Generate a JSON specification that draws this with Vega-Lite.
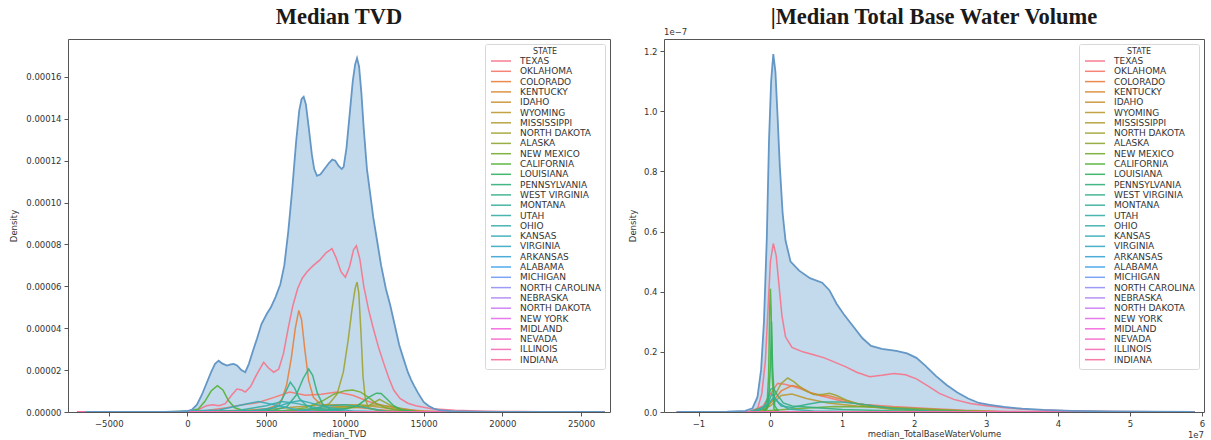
{
  "$schema": "https://vega.github.io/schema/vega-lite/v6.json",
  "padding": {"left": 9, "top": 5, "right": 0, "bottom": 0},
  "background": "white",
  "config": {
    "font": "DejaVu Sans",
    "view": {"stroke": "#555", "strokeWidth": 1},
    "axis": {"domain": false, "grid": false, "ticks": true, "tickColor": "#555", "tickSize": 4, "tickWidth": 1,
      "labelFont": "DejaVu Sans", "labelFontSize": 8.5, "labelColor": "#333", "labelPadding": 3,
      "titleFont": "DejaVu Sans", "titleFontSize": 8.5, "titleFontWeight": "normal", "titleColor": "#333"},
    "title": {"font": "Liberation Serif", "fontSize": 22.5, "fontWeight": "bold", "color": "#1a1a1a", "anchor": "middle"}
  },
  "datasets": {
    "tvd_total": [
      {"x": -6500, "y": 0}, {"x": -2000, "y": 0}, {"x": -500, "y": 1e-7}, {"x": 0, "y": 4e-7}, {"x": 300, "y": 1.2e-6},
      {"x": 600, "y": 3.5e-6}, {"x": 900, "y": 8e-6}, {"x": 1200, "y": 1.35e-5}, {"x": 1500, "y": 1.9e-5}, {"x": 1750, "y": 2.3e-5},
      {"x": 1980, "y": 2.45e-5}, {"x": 2200, "y": 2.32e-5}, {"x": 2500, "y": 2.22e-5}, {"x": 2750, "y": 2.27e-5}, {"x": 2930, "y": 2.3e-5},
      {"x": 3150, "y": 2.22e-5}, {"x": 3400, "y": 2.02e-5}, {"x": 3670, "y": 1.9e-5}, {"x": 3900, "y": 2.3e-5}, {"x": 4150, "y": 2.9e-5},
      {"x": 4415, "y": 3.5e-5}, {"x": 4700, "y": 4.2e-5}, {"x": 5050, "y": 4.7e-5}, {"x": 5300, "y": 5.0e-5}, {"x": 5600, "y": 5.5e-5},
      {"x": 5900, "y": 6.1e-5}, {"x": 6150, "y": 7.0e-5}, {"x": 6400, "y": 8.6e-5}, {"x": 6650, "y": 1.06e-4}, {"x": 6900, "y": 1.29e-4},
      {"x": 7100, "y": 1.44e-4}, {"x": 7250, "y": 1.495e-4}, {"x": 7380, "y": 1.505e-4}, {"x": 7520, "y": 1.47e-4}, {"x": 7700, "y": 1.36e-4},
      {"x": 7900, "y": 1.23e-4}, {"x": 8050, "y": 1.16e-4}, {"x": 8230, "y": 1.128e-4}, {"x": 8450, "y": 1.135e-4}, {"x": 8700, "y": 1.16e-4},
      {"x": 9000, "y": 1.19e-4}, {"x": 9200, "y": 1.205e-4}, {"x": 9390, "y": 1.2e-4}, {"x": 9600, "y": 1.175e-4}, {"x": 9800, "y": 1.16e-4},
      {"x": 9920, "y": 1.17e-4}, {"x": 10100, "y": 1.26e-4}, {"x": 10300, "y": 1.42e-4}, {"x": 10500, "y": 1.58e-4}, {"x": 10650, "y": 1.66e-4},
      {"x": 10770, "y": 1.69e-4}, {"x": 10900, "y": 1.65e-4}, {"x": 11050, "y": 1.52e-4}, {"x": 11190, "y": 1.36e-4}, {"x": 11400, "y": 1.16e-4},
      {"x": 11610, "y": 1.04e-4}, {"x": 11800, "y": 9.3e-5}, {"x": 12040, "y": 8.2e-5}, {"x": 12300, "y": 7.0e-5}, {"x": 12600, "y": 5.9e-5},
      {"x": 12880, "y": 5.1e-5}, {"x": 13150, "y": 4.2e-5}, {"x": 13450, "y": 3.2e-5}, {"x": 13740, "y": 2.5e-5}, {"x": 14000, "y": 1.9e-5},
      {"x": 14200, "y": 1.55e-5}, {"x": 14400, "y": 1.25e-5}, {"x": 14650, "y": 9e-6}, {"x": 15000, "y": 4.8e-6}, {"x": 15300, "y": 3e-6},
      {"x": 15640, "y": 1.6e-6}, {"x": 16000, "y": 9e-7}, {"x": 16800, "y": 4e-7}, {"x": 18000, "y": 1.5e-7}, {"x": 20000, "y": 5e-8},
      {"x": 23000, "y": 2e-8}, {"x": 26500, "y": 0}
    ],
    "tvd_states": [
      {"state": "TEXAS", "x": -6500, "y": 0}, {"state": "TEXAS", "x": 0, "y": 0}, {"state": "TEXAS", "x": 400, "y": 5e-7},
      {"state": "TEXAS", "x": 800, "y": 1.5e-6}, {"state": "TEXAS", "x": 1200, "y": 3e-6}, {"state": "TEXAS", "x": 1600, "y": 3.5e-6},
      {"state": "TEXAS", "x": 2000, "y": 3e-6}, {"state": "TEXAS", "x": 2400, "y": 4e-6}, {"state": "TEXAS", "x": 2800, "y": 8e-6},
      {"state": "TEXAS", "x": 3145, "y": 1.1e-5}, {"state": "TEXAS", "x": 3450, "y": 1.05e-5}, {"state": "TEXAS", "x": 3670, "y": 9.5e-6},
      {"state": "TEXAS", "x": 4000, "y": 1.2e-5}, {"state": "TEXAS", "x": 4400, "y": 1.8e-5}, {"state": "TEXAS", "x": 4840, "y": 2.37e-5},
      {"state": "TEXAS", "x": 5150, "y": 2.1e-5}, {"state": "TEXAS", "x": 5480, "y": 1.9e-5}, {"state": "TEXAS", "x": 5800, "y": 2.05e-5},
      {"state": "TEXAS", "x": 6100, "y": 2.8e-5}, {"state": "TEXAS", "x": 6400, "y": 4.0e-5}, {"state": "TEXAS", "x": 6700, "y": 5.1e-5},
      {"state": "TEXAS", "x": 7000, "y": 5.9e-5}, {"state": "TEXAS", "x": 7300, "y": 6.4e-5}, {"state": "TEXAS", "x": 7600, "y": 6.7e-5},
      {"state": "TEXAS", "x": 8000, "y": 7.0e-5}, {"state": "TEXAS", "x": 8400, "y": 7.25e-5}, {"state": "TEXAS", "x": 8800, "y": 7.6e-5},
      {"state": "TEXAS", "x": 9180, "y": 7.8e-5}, {"state": "TEXAS", "x": 9450, "y": 7.35e-5}, {"state": "TEXAS", "x": 9750, "y": 6.7e-5},
      {"state": "TEXAS", "x": 10030, "y": 6.43e-5}, {"state": "TEXAS", "x": 10300, "y": 6.95e-5}, {"state": "TEXAS", "x": 10550, "y": 7.75e-5},
      {"state": "TEXAS", "x": 10730, "y": 7.94e-5}, {"state": "TEXAS", "x": 10950, "y": 7.3e-5}, {"state": "TEXAS", "x": 11200, "y": 6.0e-5},
      {"state": "TEXAS", "x": 11500, "y": 4.9e-5}, {"state": "TEXAS", "x": 11800, "y": 4.0e-5}, {"state": "TEXAS", "x": 12150, "y": 3.05e-5},
      {"state": "TEXAS", "x": 12500, "y": 2.25e-5}, {"state": "TEXAS", "x": 12800, "y": 1.6e-5}, {"state": "TEXAS", "x": 13100, "y": 1.05e-5},
      {"state": "TEXAS", "x": 13500, "y": 6.5e-6}, {"state": "TEXAS", "x": 14000, "y": 4.2e-6}, {"state": "TEXAS", "x": 14500, "y": 3e-6},
      {"state": "TEXAS", "x": 15500, "y": 1.6e-6}, {"state": "TEXAS", "x": 17000, "y": 8e-7}, {"state": "TEXAS", "x": 19000, "y": 4e-7},
      {"state": "TEXAS", "x": 21000, "y": 2e-7}, {"state": "TEXAS", "x": 24000, "y": 5e-8}, {"state": "TEXAS", "x": 26500, "y": 0},

      {"state": "OKLAHOMA", "x": -2000, "y": 0}, {"state": "OKLAHOMA", "x": 1000, "y": 5e-7}, {"state": "OKLAHOMA", "x": 2500, "y": 2e-6},
      {"state": "OKLAHOMA", "x": 3500, "y": 3.5e-6}, {"state": "OKLAHOMA", "x": 4500, "y": 4.5e-6}, {"state": "OKLAHOMA", "x": 5500, "y": 7e-6},
      {"state": "OKLAHOMA", "x": 6500, "y": 9.5e-6}, {"state": "OKLAHOMA", "x": 7500, "y": 8e-6}, {"state": "OKLAHOMA", "x": 8500, "y": 8.5e-6},
      {"state": "OKLAHOMA", "x": 9500, "y": 9.5e-6}, {"state": "OKLAHOMA", "x": 10500, "y": 8e-6}, {"state": "OKLAHOMA", "x": 11500, "y": 5e-6},
      {"state": "OKLAHOMA", "x": 12500, "y": 3e-6}, {"state": "OKLAHOMA", "x": 13500, "y": 1.5e-6}, {"state": "OKLAHOMA", "x": 15000, "y": 5e-7},
      {"state": "OKLAHOMA", "x": 18000, "y": 0},

      {"state": "COLORADO", "x": -2000, "y": 0}, {"state": "COLORADO", "x": 2000, "y": 5e-7}, {"state": "COLORADO", "x": 4000, "y": 1e-6},
      {"state": "COLORADO", "x": 5000, "y": 1.5e-6}, {"state": "COLORADO", "x": 5600, "y": 3e-6}, {"state": "COLORADO", "x": 6000, "y": 6e-6},
      {"state": "COLORADO", "x": 6300, "y": 1.3e-5}, {"state": "COLORADO", "x": 6600, "y": 2.6e-5}, {"state": "COLORADO", "x": 6850, "y": 4.0e-5},
      {"state": "COLORADO", "x": 7070, "y": 4.85e-5}, {"state": "COLORADO", "x": 7250, "y": 4.4e-5}, {"state": "COLORADO", "x": 7450, "y": 3.0e-5},
      {"state": "COLORADO", "x": 7700, "y": 1.5e-5}, {"state": "COLORADO", "x": 8000, "y": 7e-6}, {"state": "COLORADO", "x": 8400, "y": 4e-6},
      {"state": "COLORADO", "x": 9000, "y": 3e-6}, {"state": "COLORADO", "x": 10000, "y": 2.5e-6}, {"state": "COLORADO", "x": 11000, "y": 2e-6},
      {"state": "COLORADO", "x": 12000, "y": 1.2e-6}, {"state": "COLORADO", "x": 13000, "y": 6e-7}, {"state": "COLORADO", "x": 14500, "y": 2e-7},
      {"state": "COLORADO", "x": 17000, "y": 0},

      {"state": "KENTUCKY", "x": -7000, "y": 0}, {"state": "KENTUCKY", "x": 26500, "y": 0},
      {"state": "IDAHO", "x": -7000, "y": 0}, {"state": "IDAHO", "x": 26500, "y": 0},

      {"state": "WYOMING", "x": -2000, "y": 0}, {"state": "WYOMING", "x": 4000, "y": 5e-7}, {"state": "WYOMING", "x": 7000, "y": 2.5e-6},
      {"state": "WYOMING", "x": 9000, "y": 3.5e-6}, {"state": "WYOMING", "x": 11000, "y": 3.5e-6}, {"state": "WYOMING", "x": 12500, "y": 2e-6},
      {"state": "WYOMING", "x": 14000, "y": 5e-7}, {"state": "WYOMING", "x": 16000, "y": 0},

      {"state": "MISSISSIPPI", "x": -2000, "y": 0}, {"state": "MISSISSIPPI", "x": 8000, "y": 5e-7}, {"state": "MISSISSIPPI", "x": 10500, "y": 2e-6},
      {"state": "MISSISSIPPI", "x": 12000, "y": 3.5e-6}, {"state": "MISSISSIPPI", "x": 13000, "y": 2.5e-6}, {"state": "MISSISSIPPI", "x": 14500, "y": 5e-7},
      {"state": "MISSISSIPPI", "x": 16000, "y": 0},

      {"state": "NORTH DAKOTA", "x": -2000, "y": 0}, {"state": "NORTH DAKOTA", "x": 6000, "y": 2e-7}, {"state": "NORTH DAKOTA", "x": 8000, "y": 1.2e-6},
      {"state": "NORTH DAKOTA", "x": 9000, "y": 4e-6}, {"state": "NORTH DAKOTA", "x": 9500, "y": 8.5e-6}, {"state": "NORTH DAKOTA", "x": 9900, "y": 1.9e-5},
      {"state": "NORTH DAKOTA", "x": 10200, "y": 3.4e-5}, {"state": "NORTH DAKOTA", "x": 10450, "y": 4.9e-5}, {"state": "NORTH DAKOTA", "x": 10650, "y": 5.9e-5},
      {"state": "NORTH DAKOTA", "x": 10770, "y": 6.2e-5}, {"state": "NORTH DAKOTA", "x": 10880, "y": 5.7e-5}, {"state": "NORTH DAKOTA", "x": 11020, "y": 3.8e-5},
      {"state": "NORTH DAKOTA", "x": 11150, "y": 1.7e-5}, {"state": "NORTH DAKOTA", "x": 11300, "y": 6e-6}, {"state": "NORTH DAKOTA", "x": 11500, "y": 2e-6},
      {"state": "NORTH DAKOTA", "x": 12000, "y": 8e-7}, {"state": "NORTH DAKOTA", "x": 13000, "y": 3e-7}, {"state": "NORTH DAKOTA", "x": 15000, "y": 0},

      {"state": "ALASKA", "x": -2000, "y": 0}, {"state": "ALASKA", "x": 6000, "y": 5e-7}, {"state": "ALASKA", "x": 9000, "y": 2e-6},
      {"state": "ALASKA", "x": 11500, "y": 3e-6}, {"state": "ALASKA", "x": 12200, "y": 6e-6}, {"state": "ALASKA", "x": 12700, "y": 4e-6},
      {"state": "ALASKA", "x": 13500, "y": 1e-6}, {"state": "ALASKA", "x": 15000, "y": 0},

      {"state": "NEW MEXICO", "x": -2000, "y": 0}, {"state": "NEW MEXICO", "x": 6000, "y": 5e-7}, {"state": "NEW MEXICO", "x": 7500, "y": 2e-6},
      {"state": "NEW MEXICO", "x": 8500, "y": 5e-6}, {"state": "NEW MEXICO", "x": 9300, "y": 8.5e-6}, {"state": "NEW MEXICO", "x": 10000, "y": 1.02e-5},
      {"state": "NEW MEXICO", "x": 10500, "y": 1.05e-5}, {"state": "NEW MEXICO", "x": 11000, "y": 9.5e-6}, {"state": "NEW MEXICO", "x": 11500, "y": 7e-6},
      {"state": "NEW MEXICO", "x": 12000, "y": 4e-6}, {"state": "NEW MEXICO", "x": 12600, "y": 2e-6}, {"state": "NEW MEXICO", "x": 13500, "y": 6e-7},
      {"state": "NEW MEXICO", "x": 15000, "y": 0},

      {"state": "CALIFORNIA", "x": -4000, "y": 0}, {"state": "CALIFORNIA", "x": 0, "y": 2e-7}, {"state": "CALIFORNIA", "x": 700, "y": 1.5e-6},
      {"state": "CALIFORNIA", "x": 1100, "y": 5e-6}, {"state": "CALIFORNIA", "x": 1500, "y": 1.0e-5}, {"state": "CALIFORNIA", "x": 1900, "y": 1.26e-5},
      {"state": "CALIFORNIA", "x": 2250, "y": 1.05e-5}, {"state": "CALIFORNIA", "x": 2600, "y": 5.5e-6}, {"state": "CALIFORNIA", "x": 3000, "y": 2e-6},
      {"state": "CALIFORNIA", "x": 3500, "y": 8e-7}, {"state": "CALIFORNIA", "x": 4500, "y": 5e-7}, {"state": "CALIFORNIA", "x": 6000, "y": 3e-7},
      {"state": "CALIFORNIA", "x": 8000, "y": 0},

      {"state": "LOUISIANA", "x": -2000, "y": 0}, {"state": "LOUISIANA", "x": 8000, "y": 2e-7}, {"state": "LOUISIANA", "x": 10000, "y": 1.5e-6},
      {"state": "LOUISIANA", "x": 10800, "y": 3e-6}, {"state": "LOUISIANA", "x": 11500, "y": 7e-6}, {"state": "LOUISIANA", "x": 12000, "y": 9e-6},
      {"state": "LOUISIANA", "x": 12300, "y": 8.8e-6}, {"state": "LOUISIANA", "x": 12700, "y": 6e-6}, {"state": "LOUISIANA", "x": 13100, "y": 3e-6},
      {"state": "LOUISIANA", "x": 13600, "y": 1e-6}, {"state": "LOUISIANA", "x": 14500, "y": 2e-7}, {"state": "LOUISIANA", "x": 17000, "y": 0},

      {"state": "PENNSYLVANIA", "x": -2000, "y": 0}, {"state": "PENNSYLVANIA", "x": 4000, "y": 3e-7}, {"state": "PENNSYLVANIA", "x": 5500, "y": 1e-6},
      {"state": "PENNSYLVANIA", "x": 6300, "y": 2.5e-6}, {"state": "PENNSYLVANIA", "x": 6900, "y": 8e-6}, {"state": "PENNSYLVANIA", "x": 7350, "y": 1.6e-5},
      {"state": "PENNSYLVANIA", "x": 7700, "y": 2.05e-5}, {"state": "PENNSYLVANIA", "x": 7950, "y": 1.75e-5}, {"state": "PENNSYLVANIA", "x": 8250, "y": 9e-6},
      {"state": "PENNSYLVANIA", "x": 8600, "y": 3.5e-6}, {"state": "PENNSYLVANIA", "x": 9100, "y": 1.2e-6}, {"state": "PENNSYLVANIA", "x": 10000, "y": 4e-7},
      {"state": "PENNSYLVANIA", "x": 12000, "y": 0},

      {"state": "WEST VIRGINIA", "x": -2000, "y": 0}, {"state": "WEST VIRGINIA", "x": 3000, "y": 2e-7}, {"state": "WEST VIRGINIA", "x": 5000, "y": 1e-6},
      {"state": "WEST VIRGINIA", "x": 5800, "y": 3e-6}, {"state": "WEST VIRGINIA", "x": 6200, "y": 9e-6}, {"state": "WEST VIRGINIA", "x": 6530, "y": 1.42e-5},
      {"state": "WEST VIRGINIA", "x": 6800, "y": 1.15e-5}, {"state": "WEST VIRGINIA", "x": 7100, "y": 6.5e-6}, {"state": "WEST VIRGINIA", "x": 7500, "y": 3.5e-6},
      {"state": "WEST VIRGINIA", "x": 8000, "y": 1.5e-6}, {"state": "WEST VIRGINIA", "x": 9000, "y": 5e-7}, {"state": "WEST VIRGINIA", "x": 11000, "y": 0},

      {"state": "MONTANA", "x": -2000, "y": 0}, {"state": "MONTANA", "x": 7000, "y": 5e-7}, {"state": "MONTANA", "x": 9000, "y": 3e-6},
      {"state": "MONTANA", "x": 10000, "y": 3.5e-6}, {"state": "MONTANA", "x": 11000, "y": 2.5e-6}, {"state": "MONTANA", "x": 12500, "y": 5e-7},
      {"state": "MONTANA", "x": 14000, "y": 0},

      {"state": "UTAH", "x": -2000, "y": 0}, {"state": "UTAH", "x": 3000, "y": 5e-7}, {"state": "UTAH", "x": 5000, "y": 3e-6},
      {"state": "UTAH", "x": 6000, "y": 5e-6}, {"state": "UTAH", "x": 7000, "y": 4e-6}, {"state": "UTAH", "x": 8500, "y": 1.5e-6},
      {"state": "UTAH", "x": 10000, "y": 0},

      {"state": "OHIO", "x": -2000, "y": 0}, {"state": "OHIO", "x": 4000, "y": 5e-7}, {"state": "OHIO", "x": 5500, "y": 2e-6},
      {"state": "OHIO", "x": 6500, "y": 4.5e-6}, {"state": "OHIO", "x": 7200, "y": 5.5e-6}, {"state": "OHIO", "x": 8000, "y": 4e-6},
      {"state": "OHIO", "x": 9000, "y": 2e-6}, {"state": "OHIO", "x": 10500, "y": 5e-7}, {"state": "OHIO", "x": 13000, "y": 0},

      {"state": "KANSAS", "x": -2000, "y": 0}, {"state": "KANSAS", "x": 2000, "y": 1e-6}, {"state": "KANSAS", "x": 3500, "y": 3.5e-6},
      {"state": "KANSAS", "x": 4500, "y": 5e-6}, {"state": "KANSAS", "x": 5500, "y": 3.5e-6}, {"state": "KANSAS", "x": 7000, "y": 1e-6},
      {"state": "KANSAS", "x": 9000, "y": 0},

      {"state": "VIRGINIA", "x": -7000, "y": 0}, {"state": "VIRGINIA", "x": 26500, "y": 0},
      {"state": "ARKANSAS", "x": -7000, "y": 0}, {"state": "ARKANSAS", "x": 26500, "y": 0},
      {"state": "ALABAMA", "x": -7000, "y": 0}, {"state": "ALABAMA", "x": 26500, "y": 0},
      {"state": "MICHIGAN", "x": -7000, "y": 0}, {"state": "MICHIGAN", "x": 26500, "y": 0},
      {"state": "NORTH CAROLINA", "x": -7000, "y": 0}, {"state": "NORTH CAROLINA", "x": 26500, "y": 0},
      {"state": "NEBRASKA", "x": -7000, "y": 0}, {"state": "NEBRASKA", "x": 26500, "y": 0},
      {"state": "NORTH  DAKOTA", "x": -7000, "y": 0}, {"state": "NORTH  DAKOTA", "x": 26500, "y": 0},
      {"state": "NEW YORK", "x": -7000, "y": 0}, {"state": "NEW YORK", "x": 26500, "y": 0},
      {"state": "MIDLAND", "x": -7000, "y": 0}, {"state": "MIDLAND", "x": 26500, "y": 0},
      {"state": "NEVADA", "x": -7000, "y": 0}, {"state": "NEVADA", "x": 26500, "y": 0},
      {"state": "ILLINOIS", "x": -7000, "y": 0}, {"state": "ILLINOIS", "x": 26500, "y": 0},
      {"state": "INDIANA", "x": -7000, "y": 0}, {"state": "INDIANA", "x": 26500, "y": 0}
    ],
    "wv_total": [
      {"x": -13000000, "y": 0}, {"x": -6000000, "y": 1e-10}, {"x": -3500000, "y": 4e-10}, {"x": -2500000, "y": 1.2e-9},
      {"x": -1800000, "y": 5e-9}, {"x": -1300000, "y": 1.4e-8}, {"x": -900000, "y": 3e-8}, {"x": -500000, "y": 5.8e-8},
      {"x": -200000, "y": 9e-8}, {"x": 100000, "y": 1.1e-7}, {"x": 400000, "y": 1.19e-7}, {"x": 700000, "y": 1.13e-7},
      {"x": 1000000, "y": 9.8e-8}, {"x": 1300000, "y": 8.2e-8}, {"x": 1700000, "y": 6.6e-8}, {"x": 2100000, "y": 5.7e-8},
      {"x": 2800000, "y": 5.0e-8}, {"x": 4000000, "y": 4.7e-8}, {"x": 5500000, "y": 4.45e-8}, {"x": 7200000, "y": 4.3e-8},
      {"x": 8200000, "y": 4.05e-8}, {"x": 9200000, "y": 3.6e-8}, {"x": 10200000, "y": 3.25e-8}, {"x": 11500000, "y": 2.85e-8},
      {"x": 12800000, "y": 2.45e-8}, {"x": 14000000, "y": 2.2e-8}, {"x": 15500000, "y": 2.1e-8}, {"x": 17500000, "y": 2.03e-8},
      {"x": 19000000, "y": 1.95e-8}, {"x": 20300000, "y": 1.8e-8}, {"x": 21500000, "y": 1.55e-8}, {"x": 23000000, "y": 1.2e-8},
      {"x": 24500000, "y": 9e-9}, {"x": 26000000, "y": 6.5e-9}, {"x": 27500000, "y": 4.5e-9}, {"x": 29000000, "y": 3e-9},
      {"x": 30500000, "y": 2.4e-9}, {"x": 32500000, "y": 1.7e-9}, {"x": 35000000, "y": 1.1e-9}, {"x": 38000000, "y": 7e-10},
      {"x": 42000000, "y": 4e-10}, {"x": 47000000, "y": 2e-10}, {"x": 53000000, "y": 1e-10}, {"x": 59000000, "y": 0}
    ],
    "wv_states": [
      {"state": "TEXAS", "x": -13000000, "y": 0}, {"state": "TEXAS", "x": -3000000, "y": 1e-10}, {"state": "TEXAS", "x": -1800000, "y": 1e-9},
      {"state": "TEXAS", "x": -1200000, "y": 6e-9}, {"state": "TEXAS", "x": -700000, "y": 1.7e-8}, {"state": "TEXAS", "x": -300000, "y": 3.6e-8},
      {"state": "TEXAS", "x": 0, "y": 5.0e-8}, {"state": "TEXAS", "x": 400000, "y": 5.6e-8}, {"state": "TEXAS", "x": 800000, "y": 5.2e-8},
      {"state": "TEXAS", "x": 1200000, "y": 4.2e-8}, {"state": "TEXAS", "x": 1600000, "y": 3.2e-8}, {"state": "TEXAS", "x": 2100000, "y": 2.5e-8},
      {"state": "TEXAS", "x": 3000000, "y": 2.15e-8}, {"state": "TEXAS", "x": 4500000, "y": 2.0e-8}, {"state": "TEXAS", "x": 6000000, "y": 1.9e-8},
      {"state": "TEXAS", "x": 7500000, "y": 1.8e-8}, {"state": "TEXAS", "x": 9000000, "y": 1.65e-8}, {"state": "TEXAS", "x": 10500000, "y": 1.5e-8},
      {"state": "TEXAS", "x": 12000000, "y": 1.32e-8}, {"state": "TEXAS", "x": 13800000, "y": 1.17e-8}, {"state": "TEXAS", "x": 15500000, "y": 1.22e-8},
      {"state": "TEXAS", "x": 17200000, "y": 1.28e-8}, {"state": "TEXAS", "x": 18800000, "y": 1.24e-8}, {"state": "TEXAS", "x": 20300000, "y": 1.1e-8},
      {"state": "TEXAS", "x": 22000000, "y": 8.5e-9}, {"state": "TEXAS", "x": 23500000, "y": 6.2e-9}, {"state": "TEXAS", "x": 25500000, "y": 4.2e-9},
      {"state": "TEXAS", "x": 27800000, "y": 2.8e-9}, {"state": "TEXAS", "x": 30000000, "y": 2.1e-9}, {"state": "TEXAS", "x": 33000000, "y": 1.3e-9},
      {"state": "TEXAS", "x": 36000000, "y": 8e-10}, {"state": "TEXAS", "x": 41000000, "y": 4e-10}, {"state": "TEXAS", "x": 48000000, "y": 2e-10},
      {"state": "TEXAS", "x": 59000000, "y": 0},

      {"state": "OKLAHOMA", "x": -3000000, "y": 0}, {"state": "OKLAHOMA", "x": -1000000, "y": 2e-9}, {"state": "OKLAHOMA", "x": 0, "y": 6e-9},
      {"state": "OKLAHOMA", "x": 1000000, "y": 9.5e-9}, {"state": "OKLAHOMA", "x": 2000000, "y": 9.2e-9}, {"state": "OKLAHOMA", "x": 3200000, "y": 8.5e-9},
      {"state": "OKLAHOMA", "x": 4500000, "y": 7.5e-9}, {"state": "OKLAHOMA", "x": 6000000, "y": 6e-9}, {"state": "OKLAHOMA", "x": 8000000, "y": 4.8e-9},
      {"state": "OKLAHOMA", "x": 10000000, "y": 3.6e-9}, {"state": "OKLAHOMA", "x": 13000000, "y": 2.5e-9}, {"state": "OKLAHOMA", "x": 17000000, "y": 1.8e-9},
      {"state": "OKLAHOMA", "x": 22000000, "y": 1.2e-9}, {"state": "OKLAHOMA", "x": 27000000, "y": 6e-10}, {"state": "OKLAHOMA", "x": 33000000, "y": 2e-10},
      {"state": "OKLAHOMA", "x": 40000000, "y": 0},

      {"state": "COLORADO", "x": -3000000, "y": 0}, {"state": "COLORADO", "x": -1000000, "y": 1e-9}, {"state": "COLORADO", "x": 500000, "y": 4e-9},
      {"state": "COLORADO", "x": 1500000, "y": 7e-9}, {"state": "COLORADO", "x": 3000000, "y": 8.8e-9}, {"state": "COLORADO", "x": 4200000, "y": 8.2e-9},
      {"state": "COLORADO", "x": 5500000, "y": 6.5e-9}, {"state": "COLORADO", "x": 7000000, "y": 5.5e-9}, {"state": "COLORADO", "x": 8000000, "y": 5.5e-9},
      {"state": "COLORADO", "x": 9500000, "y": 4.5e-9}, {"state": "COLORADO", "x": 12000000, "y": 2.8e-9}, {"state": "COLORADO", "x": 16000000, "y": 1.5e-9},
      {"state": "COLORADO", "x": 22000000, "y": 6e-10}, {"state": "COLORADO", "x": 30000000, "y": 0},

      {"state": "KENTUCKY", "x": -13000000, "y": 0}, {"state": "KENTUCKY", "x": 59000000, "y": 0},
      {"state": "IDAHO", "x": -13000000, "y": 0}, {"state": "IDAHO", "x": 59000000, "y": 0},

      {"state": "WYOMING", "x": -2000000, "y": 0}, {"state": "WYOMING", "x": 0, "y": 2e-9}, {"state": "WYOMING", "x": 1500000, "y": 5.5e-9},
      {"state": "WYOMING", "x": 3000000, "y": 6e-9}, {"state": "WYOMING", "x": 5000000, "y": 4.5e-9}, {"state": "WYOMING", "x": 8000000, "y": 3e-9},
      {"state": "WYOMING", "x": 12000000, "y": 2e-9}, {"state": "WYOMING", "x": 18000000, "y": 1.2e-9}, {"state": "WYOMING", "x": 25000000, "y": 5e-10},
      {"state": "WYOMING", "x": 32000000, "y": 0},

      {"state": "MISSISSIPPI", "x": -13000000, "y": 0}, {"state": "MISSISSIPPI", "x": 59000000, "y": 0},

      {"state": "NORTH DAKOTA", "x": -2000000, "y": 0}, {"state": "NORTH DAKOTA", "x": -500000, "y": 1e-9}, {"state": "NORTH DAKOTA", "x": 500000, "y": 5e-9},
      {"state": "NORTH DAKOTA", "x": 1500000, "y": 9.5e-9}, {"state": "NORTH DAKOTA", "x": 2400000, "y": 1.13e-8}, {"state": "NORTH DAKOTA", "x": 3300000, "y": 1.0e-8},
      {"state": "NORTH DAKOTA", "x": 4500000, "y": 7.5e-9}, {"state": "NORTH DAKOTA", "x": 6000000, "y": 5.8e-9}, {"state": "NORTH DAKOTA", "x": 7200000, "y": 5.8e-9},
      {"state": "NORTH DAKOTA", "x": 8200000, "y": 6.2e-9}, {"state": "NORTH DAKOTA", "x": 9200000, "y": 5.5e-9}, {"state": "NORTH DAKOTA", "x": 10500000, "y": 4e-9},
      {"state": "NORTH DAKOTA", "x": 13000000, "y": 2e-9}, {"state": "NORTH DAKOTA", "x": 17000000, "y": 8e-10}, {"state": "NORTH DAKOTA", "x": 24000000, "y": 0},

      {"state": "ALASKA", "x": -13000000, "y": 0}, {"state": "ALASKA", "x": 59000000, "y": 0},

      {"state": "NEW MEXICO", "x": -2000000, "y": 0}, {"state": "NEW MEXICO", "x": 0, "y": 5e-10}, {"state": "NEW MEXICO", "x": 4000000, "y": 1.2e-9},
      {"state": "NEW MEXICO", "x": 9000000, "y": 1.8e-9}, {"state": "NEW MEXICO", "x": 15000000, "y": 1.7e-9}, {"state": "NEW MEXICO", "x": 20000000, "y": 1.2e-9},
      {"state": "NEW MEXICO", "x": 26000000, "y": 5e-10}, {"state": "NEW MEXICO", "x": 33000000, "y": 0},

      {"state": "CALIFORNIA", "x": -13000000, "y": 0}, {"state": "CALIFORNIA", "x": -1000000, "y": 0}, {"state": "CALIFORNIA", "x": -500000, "y": 1e-9},
      {"state": "CALIFORNIA", "x": -250000, "y": 1.2e-8}, {"state": "CALIFORNIA", "x": -100000, "y": 3.4e-8}, {"state": "CALIFORNIA", "x": 0, "y": 4.1e-8},
      {"state": "CALIFORNIA", "x": 100000, "y": 3.4e-8}, {"state": "CALIFORNIA", "x": 250000, "y": 1.2e-8}, {"state": "CALIFORNIA", "x": 500000, "y": 1e-9},
      {"state": "CALIFORNIA", "x": 1000000, "y": 0}, {"state": "CALIFORNIA", "x": 59000000, "y": 0},

      {"state": "LOUISIANA", "x": -1000000, "y": 0}, {"state": "LOUISIANA", "x": -300000, "y": 2e-9}, {"state": "LOUISIANA", "x": 0, "y": 1.5e-8},
      {"state": "LOUISIANA", "x": 150000, "y": 3.0e-8}, {"state": "LOUISIANA", "x": 300000, "y": 1.5e-8}, {"state": "LOUISIANA", "x": 600000, "y": 2e-9},
      {"state": "LOUISIANA", "x": 1200000, "y": 0}, {"state": "LOUISIANA", "x": 59000000, "y": 0},

      {"state": "PENNSYLVANIA", "x": -3000000, "y": 0}, {"state": "PENNSYLVANIA", "x": -1000000, "y": 1e-9}, {"state": "PENNSYLVANIA", "x": -300000, "y": 5e-9},
      {"state": "PENNSYLVANIA", "x": 0, "y": 7.5e-9}, {"state": "PENNSYLVANIA", "x": 400000, "y": 8e-9}, {"state": "PENNSYLVANIA", "x": 1000000, "y": 5.5e-9},
      {"state": "PENNSYLVANIA", "x": 1800000, "y": 3e-9}, {"state": "PENNSYLVANIA", "x": 3000000, "y": 2e-9}, {"state": "PENNSYLVANIA", "x": 6000000, "y": 1.5e-9},
      {"state": "PENNSYLVANIA", "x": 10000000, "y": 8e-10}, {"state": "PENNSYLVANIA", "x": 20000000, "y": 2e-10}, {"state": "PENNSYLVANIA", "x": 30000000, "y": 0},

      {"state": "WEST VIRGINIA", "x": -3000000, "y": 0}, {"state": "WEST VIRGINIA", "x": -500000, "y": 2e-9}, {"state": "WEST VIRGINIA", "x": 200000, "y": 6e-9},
      {"state": "WEST VIRGINIA", "x": 800000, "y": 4e-9}, {"state": "WEST VIRGINIA", "x": 1500000, "y": 2e-9}, {"state": "WEST VIRGINIA", "x": 3000000, "y": 1.5e-9},
      {"state": "WEST VIRGINIA", "x": 5000000, "y": 2.5e-9}, {"state": "WEST VIRGINIA", "x": 7000000, "y": 3.3e-9}, {"state": "WEST VIRGINIA", "x": 10000000, "y": 3.3e-9},
      {"state": "WEST VIRGINIA", "x": 13000000, "y": 2.5e-9}, {"state": "WEST VIRGINIA", "x": 17000000, "y": 1.2e-9}, {"state": "WEST VIRGINIA", "x": 22000000, "y": 4e-10},
      {"state": "WEST VIRGINIA", "x": 30000000, "y": 0},

      {"state": "MONTANA", "x": -13000000, "y": 0}, {"state": "MONTANA", "x": 59000000, "y": 0},

      {"state": "UTAH", "x": -2000000, "y": 0}, {"state": "UTAH", "x": -200000, "y": 3e-9}, {"state": "UTAH", "x": 500000, "y": 5e-9},
      {"state": "UTAH", "x": 1200000, "y": 3e-9}, {"state": "UTAH", "x": 2500000, "y": 1e-9}, {"state": "UTAH", "x": 6000000, "y": 3e-10},
      {"state": "UTAH", "x": 15000000, "y": 0},

      {"state": "OHIO", "x": -13000000, "y": 0}, {"state": "OHIO", "x": 59000000, "y": 0},
      {"state": "KANSAS", "x": -13000000, "y": 0}, {"state": "KANSAS", "x": 59000000, "y": 0},
      {"state": "VIRGINIA", "x": -13000000, "y": 0}, {"state": "VIRGINIA", "x": 59000000, "y": 0},
      {"state": "ARKANSAS", "x": -13000000, "y": 0}, {"state": "ARKANSAS", "x": 59000000, "y": 0},
      {"state": "ALABAMA", "x": -13000000, "y": 0}, {"state": "ALABAMA", "x": 59000000, "y": 0},
      {"state": "MICHIGAN", "x": -13000000, "y": 0}, {"state": "MICHIGAN", "x": 59000000, "y": 0},
      {"state": "NORTH CAROLINA", "x": -13000000, "y": 0}, {"state": "NORTH CAROLINA", "x": 59000000, "y": 0},
      {"state": "NEBRASKA", "x": -13000000, "y": 0}, {"state": "NEBRASKA", "x": 59000000, "y": 0},
      {"state": "NORTH  DAKOTA", "x": -13000000, "y": 0}, {"state": "NORTH  DAKOTA", "x": 59000000, "y": 0},
      {"state": "NEW YORK", "x": -13000000, "y": 0}, {"state": "NEW YORK", "x": 59000000, "y": 0},
      {"state": "MIDLAND", "x": -13000000, "y": 0}, {"state": "MIDLAND", "x": 59000000, "y": 0},
      {"state": "NEVADA", "x": -13000000, "y": 0}, {"state": "NEVADA", "x": 59000000, "y": 0},
      {"state": "ILLINOIS", "x": -13000000, "y": 0}, {"state": "ILLINOIS", "x": 59000000, "y": 0},
      {"state": "INDIANA", "x": -13000000, "y": 0}, {"state": "INDIANA", "x": 59000000, "y": 0}
    ],
    "wv_offsets": [
      {"label": "1e\u22127", "x": -14800000, "y": 1.24e-7, "pos": "top"},
      {"label": "1e7", "x": 60300000, "y": 0, "pos": "bottom"}
    ]
  },
  "bounds": "flush",
  "spacing": 54,
  "resolve": {"scale": {"color": "independent"}},
  "hconcat": [
    {
      "width": 542,
      "height": 373,
      "title": {"text": "Median TVD", "offset": 11},
      "layer": [
        {
          "data": {"name": "tvd_total"},
          "mark": {"type": "area", "color": "#1f77b4", "opacity": 0.27, "clip": true},
          "encoding": {
            "x": {"field": "x", "type": "quantitative", "scale": {"domain": [-7590, 26840], "nice": false, "zero": false},
              "axis": {"values": [-5000, 0, 5000, 10000, 15000, 20000, 25000], "format": "d", "title": "median_TVD", "titlePadding": 2}},
            "y": {"field": "y", "type": "quantitative", "scale": {"domain": [0, 0.0001781], "nice": false},
              "axis": {"values": [0, 0.00002, 0.00004, 0.00006, 0.00008, 0.0001, 0.00012, 0.00014, 0.00016], "format": ".5f", "title": "Density", "titlePadding": 7}}
          }
        },
        {
          "data": {"name": "tvd_states"},
          "mark": {"type": "line", "strokeWidth": 1.5, "opacity": 0.9, "clip": true},
          "encoding": {
            "x": {"field": "x", "type": "quantitative"},
            "y": {"field": "y", "type": "quantitative"},
            "color": {"field": "state", "type": "nominal",
              "scale": {"domain": ["TEXAS","OKLAHOMA","COLORADO","KENTUCKY","IDAHO","WYOMING","MISSISSIPPI","NORTH DAKOTA","ALASKA","NEW MEXICO","CALIFORNIA","LOUISIANA","PENNSYLVANIA","WEST VIRGINIA","MONTANA","UTAH","OHIO","KANSAS","VIRGINIA","ARKANSAS","ALABAMA","MICHIGAN","NORTH CAROLINA","NEBRASKA","NORTH  DAKOTA","NEW YORK","MIDLAND","NEVADA","ILLINOIS","INDIANA"],
                "range": ["#f77189","#f7766b","#e8803c","#da8a32","#cb9132","#bc9832","#ae9d31","#9fa231","#8ea631","#77ab31","#50b131","#32b15f","#33b079","#34af8c","#35ae99","#36ada4","#37acaf","#37abb8","#38a9c4","#39a6d4","#3ba3ec","#6f9af4","#9491f4","#b087f4","#cc7af4","#e46ceb","#f361e1","#f566cd","#f66bb6","#f6709f"]},
              "legend": {"title": "STATE", "orient": "top-right", "offset": 5, "symbolType": "M-2.5,0H2.5", "symbolSize": 64, "symbolStrokeWidth": 1.5,
                "labelFont": "DejaVu Sans", "labelFontSize": 9, "labelColor": "#333", "labelOffset": 14, "labelLimit": 200,
                "titleFont": "DejaVu Sans", "titleFontSize": 8, "titleFontWeight": "normal", "titleColor": "#333", "titleAnchor": "middle", "titlePadding": 0,
                "padding": 4, "rowPadding": 0.3, "fillColor": "rgba(255,255,255,0.85)", "strokeColor": "#d8d8d8", "cornerRadius": 2, "symbolOffset": 7}}
          }
        },
        {
          "data": {"name": "tvd_total"},
          "mark": {"type": "line", "color": "#6497c6", "strokeWidth": 1.8, "clip": true},
          "encoding": {
            "x": {"field": "x", "type": "quantitative"},
            "y": {"field": "y", "type": "quantitative"}
          }
        }
      ]
    },
    {
      "width": 540,
      "height": 373,
      "title": {"text": "|Median Total Base Water Volume", "offset": 0},
      "layer": [
        {
          "data": {"name": "wv_total"},
          "mark": {"type": "area", "color": "#1f77b4", "opacity": 0.27, "clip": true},
          "encoding": {
            "x": {"field": "x", "type": "quantitative", "scale": {"domain": [-14800000, 60300000], "nice": false, "zero": false},
              "axis": {"values": [-10000000, 0, 10000000, 20000000, 30000000, 40000000, 50000000, 60000000], "labelExpr": "format(datum.value / 10000000, 'd')", "title": "median_TotalBaseWaterVolume", "titlePadding": 2}},
            "y": {"field": "y", "type": "quantitative", "scale": {"domain": [0, 1.24e-7], "nice": false},
              "axis": {"values": [0, 2e-8, 4e-8, 6e-8, 8e-8, 1e-7, 1.2e-7], "labelExpr": "format(datum.value * 10000000, '.1f')", "title": "Density", "titlePadding": 6}}
          }
        },
        {
          "data": {"name": "wv_states"},
          "mark": {"type": "line", "strokeWidth": 1.5, "opacity": 0.9, "clip": true},
          "encoding": {
            "x": {"field": "x", "type": "quantitative"},
            "y": {"field": "y", "type": "quantitative"},
            "color": {"field": "state", "type": "nominal",
              "scale": {"domain": ["TEXAS","OKLAHOMA","COLORADO","KENTUCKY","IDAHO","WYOMING","MISSISSIPPI","NORTH DAKOTA","ALASKA","NEW MEXICO","CALIFORNIA","LOUISIANA","PENNSYLVANIA","WEST VIRGINIA","MONTANA","UTAH","OHIO","KANSAS","VIRGINIA","ARKANSAS","ALABAMA","MICHIGAN","NORTH CAROLINA","NEBRASKA","NORTH  DAKOTA","NEW YORK","MIDLAND","NEVADA","ILLINOIS","INDIANA"],
                "range": ["#f77189","#f7766b","#e8803c","#da8a32","#cb9132","#bc9832","#ae9d31","#9fa231","#8ea631","#77ab31","#50b131","#32b15f","#33b079","#34af8c","#35ae99","#36ada4","#37acaf","#37abb8","#38a9c4","#39a6d4","#3ba3ec","#6f9af4","#9491f4","#b087f4","#cc7af4","#e46ceb","#f361e1","#f566cd","#f66bb6","#f6709f"]},
              "legend": {"title": "STATE", "orient": "top-right", "offset": 5, "symbolType": "M-2.5,0H2.5", "symbolSize": 64, "symbolStrokeWidth": 1.5,
                "labelFont": "DejaVu Sans", "labelFontSize": 9, "labelColor": "#333", "labelOffset": 14, "labelLimit": 200,
                "titleFont": "DejaVu Sans", "titleFontSize": 8, "titleFontWeight": "normal", "titleColor": "#333", "titleAnchor": "middle", "titlePadding": 0,
                "padding": 4, "rowPadding": 0.3, "fillColor": "rgba(255,255,255,0.85)", "strokeColor": "#d8d8d8", "cornerRadius": 2, "symbolOffset": 7}}
          }
        },
        {
          "data": {"name": "wv_total"},
          "mark": {"type": "line", "color": "#6497c6", "strokeWidth": 1.8, "clip": true},
          "encoding": {
            "x": {"field": "x", "type": "quantitative"},
            "y": {"field": "y", "type": "quantitative"}
          }
        },
        {
          "data": {"name": "wv_offsets"},
          "transform": [{"filter": "datum.pos === 'top'"}],
          "mark": {"type": "text", "align": "left", "baseline": "bottom", "dy": -2, "fontSize": 8.5, "font": "DejaVu Sans", "color": "#333"},
          "encoding": {
            "x": {"field": "x", "type": "quantitative"},
            "y": {"field": "y", "type": "quantitative"},
            "text": {"field": "label"}
          }
        },
        {
          "data": {"name": "wv_offsets"},
          "transform": [{"filter": "datum.pos === 'bottom'"}],
          "mark": {"type": "text", "align": "right", "baseline": "top", "dy": 19, "fontSize": 8.5, "font": "DejaVu Sans", "color": "#333"},
          "encoding": {
            "x": {"field": "x", "type": "quantitative"},
            "y": {"field": "y", "type": "quantitative"},
            "text": {"field": "label"}
          }
        }
      ]
    }
  ]
}
